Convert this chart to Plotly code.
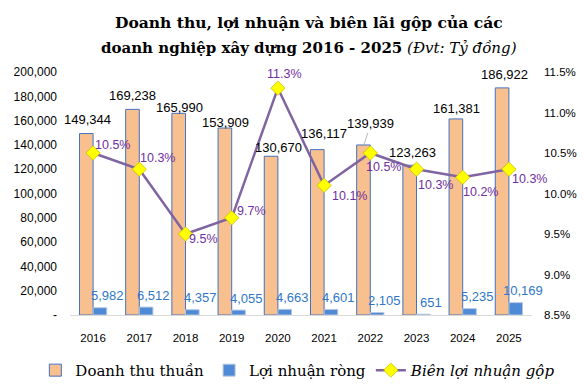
import plotly.graph_objects as go

years = ["2016", "2017", "2018", "2019", "2020", "2021", "2022", "2023", "2024", "2025"]
revenue = [149344, 169238, 165990, 153909, 130670, 136117, 139939, 123263, 161381, 186922]
profit = [5982, 6512, 4357, 4055, 4663, 4601, 2105, 651, 5235, 10169]
margin = [10.5, 10.3, 9.5, 9.7, 11.3, 10.1, 10.5, 10.3, 10.2, 10.3]

left_ticks = [0, 20000, 40000, 60000, 80000, 100000, 120000, 140000, 160000, 180000, 200000]
right_ticks = [8.5, 9.0, 9.5, 10.0, 10.5, 11.0, 11.5]

# label offsets (style only)
rev_dx = [1, 0, 0, 0, 7, 6, 7, 2, 0, 2]
rev_dy = [14, 14, 6, 6, 9, 16, 21, 13, 10, 13]
mar_dx = [19, 18, 18, 20, 7, 25, 13, 19, 18, 21]
mar_dy = [8, 11, -5, 7, 14, -11, -14, -16, -15, -10]

SANS = "Liberation Sans"
SERIF = "DejaVu Serif"

fig = go.Figure()
fig.add_trace(go.Bar(
    x=years, y=revenue, name="Doanh thu thuần",
    marker=dict(color="#F8BF8F", line=dict(color="#4472C4", width=1)),
))
fig.add_trace(go.Bar(
    x=years, y=profit, name="Lợi nhuận ròng",
    marker=dict(color="#4E8AD6", line=dict(color="#B8C8E0", width=1)),
))
fig.add_trace(go.Scatter(
    x=years, y=margin, name="<i>Biên lợi nhuận gộp</i>", yaxis="y2",
    mode="lines+markers",
    line=dict(color="#8064A2", width=2.5),
    marker=dict(symbol="diamond", size=11, color="#FFFF00", line=dict(color="#C8C000", width=0.8)),
))

ann = []
for i in range(len(years)):
    txt = f"{revenue[i]:,}"
    if i == 6:
        ann.append(dict(x=i, y=revenue[i], xref="x", yref="y", text=txt, showarrow=True,
                        arrowhead=0, arrowwidth=0.8, arrowcolor="#A6A6A6",
                        ax=rev_dx[i], ay=-rev_dy[i], xshift=-6.5,
                        font=dict(family=SANS, size=13, color="#000000")))
    else:
        ann.append(dict(x=i, y=revenue[i], xref="x", yref="y", text=txt, showarrow=False,
                        xshift=-6.5 + rev_dx[i], yshift=rev_dy[i], yanchor="middle",
                        font=dict(family=SANS, size=13, color="#000000")))
    ann.append(dict(x=i, y=profit[i], xref="x", yref="y", text=f"{profit[i]:,}", showarrow=False,
                    xshift=14.5, yshift=12, yanchor="middle",
                    font=dict(family=SANS, size=13, color="#2F78C8")))
    ann.append(dict(x=i, y=margin[i], xref="x", yref="y2", text=f"{margin[i]:.1f}%", showarrow=False,
                    xshift=mar_dx[i], yshift=mar_dy[i], yanchor="middle",
                    font=dict(family=SANS, size=12.5, color="#7030A0")))

ann.append(dict(xref="paper", yref="paper", x=0.517, y=1.204, yanchor="middle", showarrow=False,
                text="<b>Doanh thu, lợi nhuận và biên lãi gộp của các</b>",
                font=dict(family=SERIF, size=15.5, color="#000000")))
ann.append(dict(xref="paper", yref="paper", x=0.517, y=1.0996, yanchor="middle", showarrow=False,
                text="<b>doanh nghiệp xây dựng 2016 - 2025</b> <i>(Đvt: Tỷ đồng)</i>",
                font=dict(family=SERIF, size=15, color="#000000")))

fig.update_layout(
    width=586, height=389,
    margin=dict(l=70, r=54, t=72, b=74, autoexpand=False),
    paper_bgcolor="white", plot_bgcolor="white",
    barmode="group", bargap=0.41, bargroupgap=0,
    showlegend=True,
    legend=dict(orientation="h", x=-0.075, xanchor="left", y=-0.228, yanchor="middle",
                font=dict(family=SERIF, size=15, color="#000000"), itemwidth=30,
                tracegroupgap=0, borderwidth=0),
    annotations=ann,
    xaxis=dict(type="category", range=[-0.5, 9.5], showline=True, linecolor="#D9D9D9", linewidth=1,
               ticks="", showgrid=False, ticklabelstandoff=12, automargin=False,
               tickfont=dict(family=SANS, size=11.5, color="#000000")),
    yaxis=dict(range=[0, 200000], tickvals=left_ticks,
               ticktext=["-" if v == 0 else f"{v:,}" for v in left_ticks],
               showgrid=False, zeroline=False, showline=False, ticks="",
               ticklabelstandoff=12, automargin=False,
               tickfont=dict(family=SANS, size=12, color="#000000")),
    yaxis2=dict(range=[8.5, 11.5], overlaying="y", side="right", tickvals=right_ticks,
                ticktext=[f"{v:.1f}%" for v in right_ticks],
                showgrid=False, zeroline=False, showline=False, ticks="",
                ticklabelstandoff=11, automargin=False,
                tickfont=dict(family=SANS, size=11.5, color="#000000")),
)

fig.write_html("out.html", config={"displayModeBar": False},
               post_script="document.body.style.margin='0';")
